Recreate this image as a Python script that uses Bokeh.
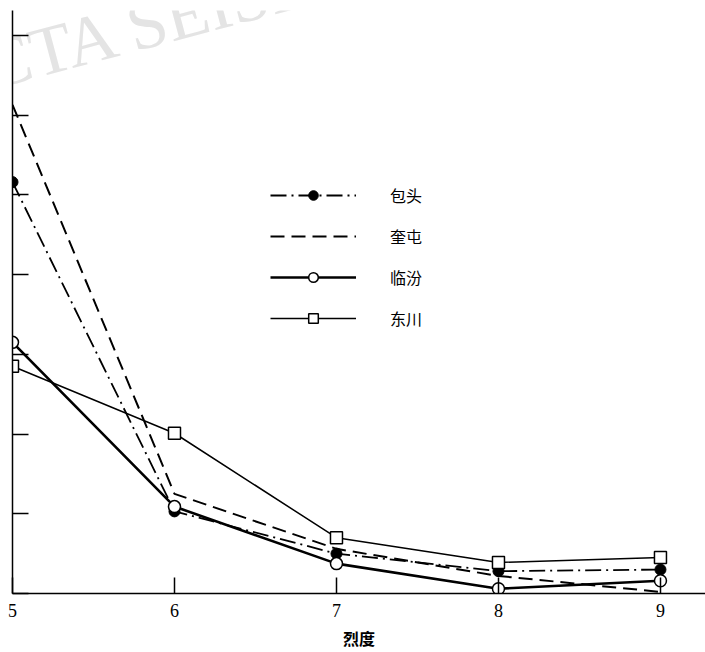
from bokeh.plotting import figure
from bokeh.models import FixedTicker, Legend, LegendItem, Range1d, Label
from bokeh.embed import file_html
from bokeh.resources import INLINE

# intensity (烈度)
intensity = [5, 6, 7, 8, 9]
baotou = [6.16, 2.03, 1.50, 1.28, 1.30]      # 包头
kuitun = [7.13, 2.25, 1.56, 1.22, 1.02]      # 奎屯
linfen = [4.15, 2.09, 1.375, 1.06, 1.16]     # 临汾
dongchuan = [3.85, 3.01, 1.70, 1.39, 1.45]   # 东川
x_ticks = [5, 6, 7, 8, 9]
y_ticks = [1, 2, 3, 4, 5, 6, 7, 8]
y_labels = [3, 5, 7]
names = ["包头", "奎屯", "临汾", "东川"]

p = figure(width=705, height=652, output_backend="svg", toolbar_location=None,
           x_range=Range1d(5, 9.278), y_range=Range1d(1, 8.3125),
           min_border_left=12, min_border_right=0, min_border_top=10, min_border_bottom=57)
p.outline_line_color = None
p.xgrid.visible = False
p.ygrid.visible = False
p.background_fill_color = "white"

# watermark
p.add_layout(Label(x=4.53, y=7.44, text="ACTA SEISMOLOGICA SINICA", angle=0.26,
                   text_font="Liberation Serif", text_font_size="70px",
                   text_color="#e4e4e4", text_baseline="alphabetic", level="underlay"))

l1 = p.line(intensity, baotou, line_color="black", line_width=1.8, line_dash="16 5 2 5")
m1 = p.scatter(intensity, baotou, marker="circle", size=11, fill_color="black", line_color="black")
l2 = p.line(intensity, kuitun, line_color="black", line_width=2, line_dash="14 7")
l3 = p.line(intensity, linfen, line_color="black", line_width=2.6)
m3 = p.scatter(intensity, linfen, marker="circle", size=12, fill_color="white",
               line_color="black", line_width=1.5)
l4 = p.line(intensity, dongchuan, line_color="black", line_width=1.5)
m4 = p.scatter(intensity, dongchuan, marker="square", size=12, fill_color="white",
               line_color="black", line_width=1.5)

legend = Legend(items=[LegendItem(label=names[0], renderers=[l1, m1]),
                       LegendItem(label=names[1], renderers=[l2]),
                       LegendItem(label=names[2], renderers=[l3, m3]),
                       LegendItem(label=names[3], renderers=[l4, m4])],
                location=(258, 263), glyph_width=86, glyph_height=24, label_height=24,
                label_standoff=34, spacing=17, padding=0, margin=0,
                border_line_color=None, background_fill_alpha=0,
                label_text_font="Noto Sans CJK SC", label_text_font_size="16px",
                label_text_color="black")
p.add_layout(legend)

for ax in (p.xaxis, p.yaxis):
    ax.axis_line_color = "black"
    ax.axis_line_width = 1.5
    ax.major_tick_line_color = "black"
    ax.major_tick_line_width = 1.5
    ax.major_tick_in = 16
    ax.major_tick_out = 0
    ax.minor_tick_line_color = None

p.xaxis.ticker = FixedTicker(ticks=x_ticks)
p.xaxis.major_label_standoff = 10
p.xaxis.major_label_text_font = "Liberation Serif"
p.xaxis.major_label_text_font_size = "18px"
p.xaxis.major_label_text_color = "black"
p.xaxis.axis_label = "烈度"
p.xaxis.axis_label_standoff = 6
p.xaxis.axis_label_text_font = "Noto Sans CJK SC"
p.xaxis.axis_label_text_font_size = "16px"
p.xaxis.axis_label_text_font_style = "bold"
p.xaxis.axis_label_text_color = "black"

p.yaxis.ticker = FixedTicker(ticks=y_ticks)
p.yaxis.major_label_overrides = {t: "" for t in y_ticks}
p.yaxis.major_label_standoff = 0

for v in y_labels:
    p.add_layout(Label(x=5, y=v, text=str(v), x_offset=-7, text_align="right",
                       text_baseline="middle", text_font="Liberation Serif",
                       text_font_size="18px", text_color="black"))

open("out.html", "w").write(file_html(p, INLINE))
